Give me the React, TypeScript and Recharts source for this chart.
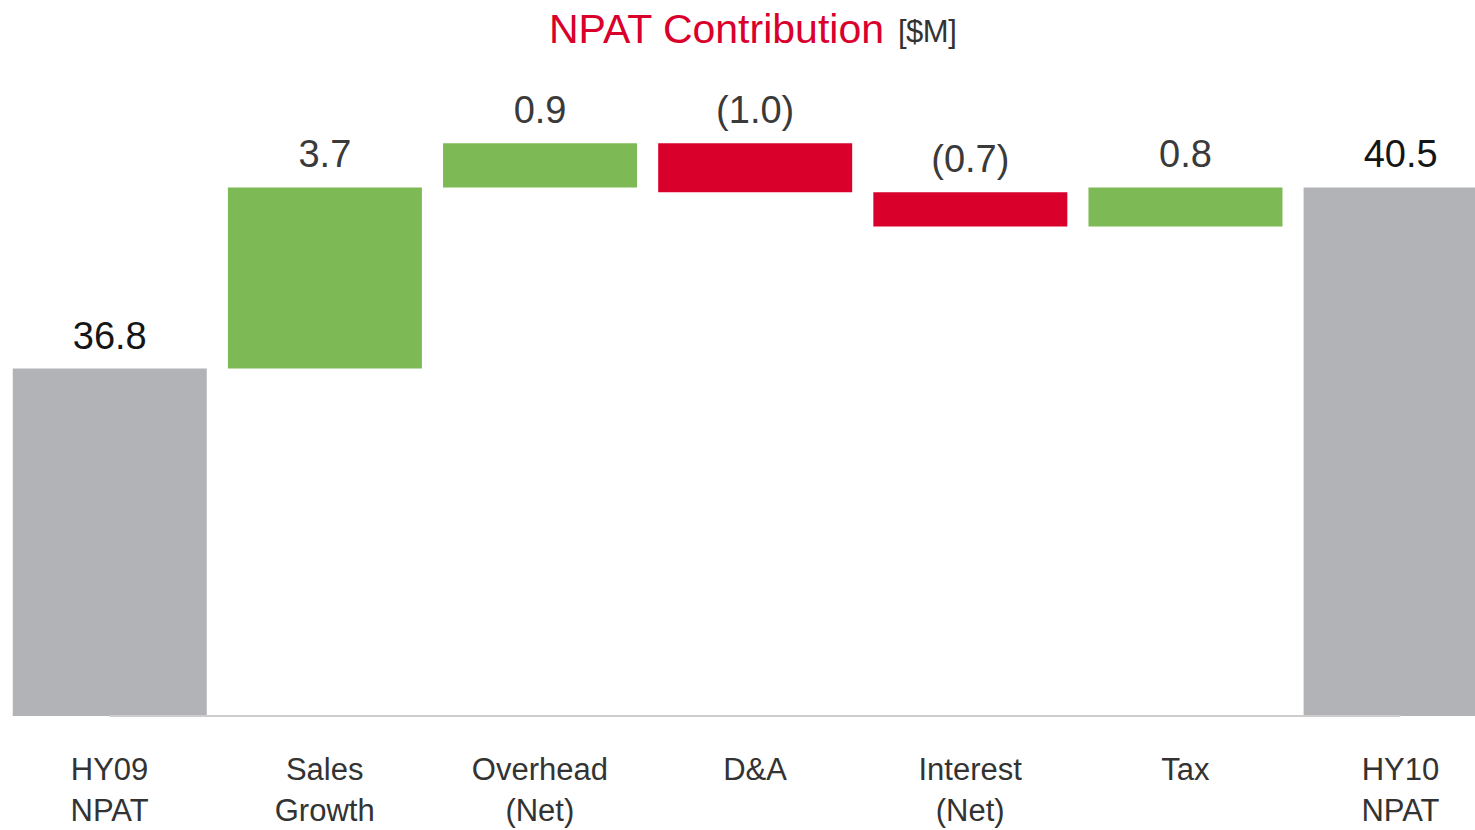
import React from 'react'
import { BarChart, Bar, XAxis, YAxis, Cell, LabelList, ReferenceLine } from 'recharts'

const labelTop = ['HY09', 'Sales', 'Overhead', 'D&A', 'Interest', 'Tax', 'HY10']
const labelBottom = ['NPAT', 'Growth', '(Net)', '', '(Net)', '', 'NPAT']
const amounts = [36.8, 3.7, 0.9, -1.0, -0.7, 0.8, 40.5]
const isTotal = [true, false, false, false, false, false, true]

// axis floor of the original slide (bars are not drawn from zero)
const Y_FLOOR = 29.7
const Y_CEIL = 42

const GRAY = '#b1b3b6'
const GREEN = '#7dba55'
const RED = '#d9002b'
const FONT = '"Liberation Sans", Arial, Helvetica, sans-serif'

let running = 0
const data = amounts.map((v, i) => {
  if (isTotal[i]) {
    running = v
    return { name: labelTop[i], range: [Y_FLOOR, v] }
  }
  const start = running
  running = +(start + v).toFixed(2)
  return { name: labelTop[i], range: [Math.min(start, running), Math.max(start, running)] }
})

const fmt = (v: number) => (v < 0 ? `(${Math.abs(v).toFixed(1)})` : v.toFixed(1))

const ValueLabel = (props: any) => {
  const { x, y, width, index } = props
  const total = isTotal[index]
  return (
    <text
      x={x + width / 2}
      y={y - 20}
      textAnchor="middle"
      fontFamily={FONT}
      fontSize={38}
      fill={total ? '#151515' : '#3a3a3a'}
    >
      {fmt(amounts[index])}
    </text>
  )
}

const CategoryTick = (props: any) => {
  const { x, payload } = props
  const i = payload.index
  return (
    <g>
      <text x={x} y={780} textAnchor="middle" fontFamily={FONT} fontSize={31} fill="#333">
        {labelTop[i]}
      </text>
      {labelBottom[i] && (
        <text x={x} y={821} textAnchor="middle" fontFamily={FONT} fontSize={31} fill="#333">
          {labelBottom[i]}
        </text>
      )}
    </g>
  )
}

const App = () => {
  return (
    <div
      style={{
        position: 'absolute',
        left: 0,
        top: 0,
        width: 1475,
        height: 830,
        overflow: 'hidden',
        background: '#fff',
      }}
    >
      <BarChart
        width={1510}
        height={830}
        data={data}
        margin={{ top: 114, right: 2, bottom: 0, left: 2 }}
        barCategoryGap="5%"
      >
        <XAxis
          dataKey="name"
          interval={0}
          height={114}
          tickLine={false}
          axisLine={false}
          tick={<CategoryTick />}
        />
        <YAxis hide domain={[Y_FLOOR, Y_CEIL]} allowDataOverflow />
        <ReferenceLine
          segment={[
            { x: labelTop[0], y: Y_FLOOR },
            { x: labelTop[labelTop.length - 1], y: Y_FLOOR },
          ]}
          stroke="#cdcdcd"
          strokeWidth={2}
          ifOverflow="visible"
        />
        <Bar dataKey="range" isAnimationActive={false}>
          {data.map((d, i) => (
            <Cell
              key={`cell-${i}`}
              fill={isTotal[i] ? GRAY : amounts[i] < 0 ? RED : GREEN}
            />
          ))}
          <LabelList dataKey="range" content={<ValueLabel />} />
        </Bar>
      </BarChart>
      <svg
        width={1475}
        height={60}
        style={{ position: 'absolute', left: 0, top: 0, pointerEvents: 'none' }}
      >
        <text x={549} y={43} fontFamily={FONT} fontSize={41} fill={RED}>
          NPAT Contribution
        </text>
        <text x={898} y={42} fontFamily={FONT} fontSize={31} fill="#333" letterSpacing={-0.5}>
          [$M]
        </text>
      </svg>
    </div>
  )
}

export default App
